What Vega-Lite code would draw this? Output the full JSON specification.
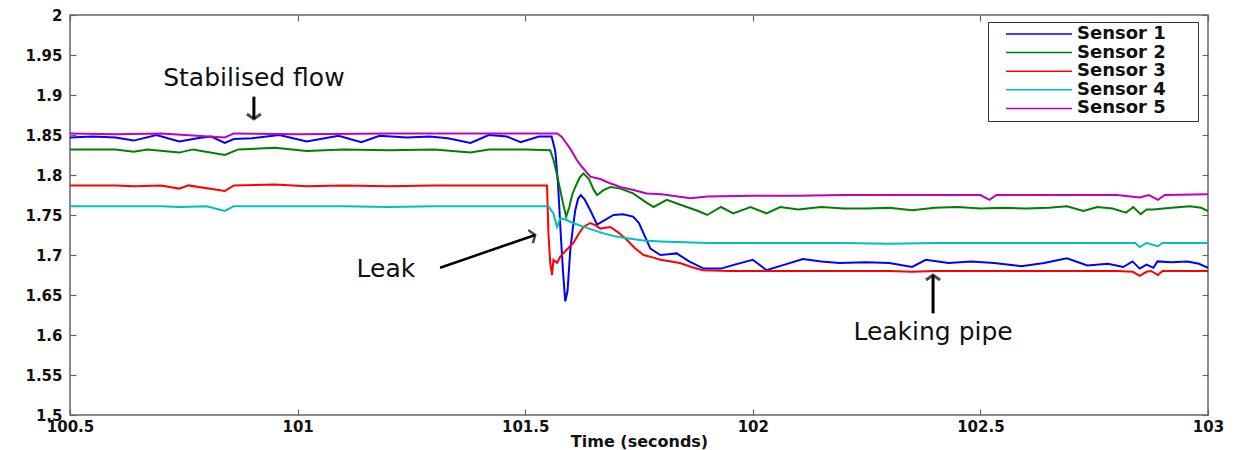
{
  "$schema": "https://vega.github.io/schema/vega-lite/v6.json",
  "width": 1138,
  "height": 400,
  "autosize": "none",
  "padding": {"left": 70, "top": 15, "right": 31, "bottom": 35},
  "background": "white",
  "config": {
    "view": {"stroke": "#666666", "strokeWidth": 1.5},
    "axis": {
      "labelFont": "DejaVu Sans", "labelFontWeight": "bold", "labelFontSize": 15, "labelColor": "#111111",
      "titleFont": "DejaVu Sans", "titleFontWeight": "bold", "titleFontSize": 16, "titleColor": "#111111",
      "domain": false, "grid": false, "tickColor": "#666666", "tickWidth": 1.2, "tickSize": -6,
      "labelFlush": false, "labelOverlap": false, "labelBound": false
    }
  },
  "datasets": {
    "sensors": [
      {"t":100.50,"v":1.847,"s":"Sensor 1"},{"t":100.55,"v":1.848,"s":"Sensor 1"},{"t":100.60,"v":1.847,"s":"Sensor 1"},{"t":100.64,"v":1.843,"s":"Sensor 1"},{"t":100.69,"v":1.850,"s":"Sensor 1"},{"t":100.74,"v":1.842,"s":"Sensor 1"},{"t":100.78,"v":1.846,"s":"Sensor 1"},{"t":100.81,"v":1.848,"s":"Sensor 1"},{"t":100.84,"v":1.840,"s":"Sensor 1"},{"t":100.86,"v":1.845,"s":"Sensor 1"},{"t":100.90,"v":1.846,"s":"Sensor 1"},{"t":100.96,"v":1.850,"s":"Sensor 1"},{"t":101.02,"v":1.842,"s":"Sensor 1"},{"t":101.09,"v":1.849,"s":"Sensor 1"},{"t":101.14,"v":1.841,"s":"Sensor 1"},{"t":101.18,"v":1.849,"s":"Sensor 1"},{"t":101.24,"v":1.847,"s":"Sensor 1"},{"t":101.29,"v":1.848,"s":"Sensor 1"},{"t":101.33,"v":1.846,"s":"Sensor 1"},{"t":101.38,"v":1.840,"s":"Sensor 1"},{"t":101.42,"v":1.850,"s":"Sensor 1"},{"t":101.46,"v":1.848,"s":"Sensor 1"},{"t":101.49,"v":1.841,"s":"Sensor 1"},{"t":101.53,"v":1.848,"s":"Sensor 1"},{"t":101.558,"v":1.848,"s":"Sensor 1"},{"t":101.566,"v":1.830,"s":"Sensor 1"},{"t":101.572,"v":1.790,"s":"Sensor 1"},{"t":101.578,"v":1.727,"s":"Sensor 1"},{"t":101.583,"v":1.680,"s":"Sensor 1"},{"t":101.588,"v":1.642,"s":"Sensor 1"},{"t":101.593,"v":1.655,"s":"Sensor 1"},{"t":101.599,"v":1.706,"s":"Sensor 1"},{"t":101.605,"v":1.735,"s":"Sensor 1"},{"t":101.610,"v":1.756,"s":"Sensor 1"},{"t":101.616,"v":1.770,"s":"Sensor 1"},{"t":101.622,"v":1.775,"s":"Sensor 1"},{"t":101.630,"v":1.770,"s":"Sensor 1"},{"t":101.643,"v":1.756,"s":"Sensor 1"},{"t":101.658,"v":1.738,"s":"Sensor 1"},{"t":101.670,"v":1.742,"s":"Sensor 1"},{"t":101.694,"v":1.750,"s":"Sensor 1"},{"t":101.715,"v":1.751,"s":"Sensor 1"},{"t":101.737,"v":1.748,"s":"Sensor 1"},{"t":101.750,"v":1.740,"s":"Sensor 1"},{"t":101.760,"v":1.727,"s":"Sensor 1"},{"t":101.775,"v":1.708,"s":"Sensor 1"},{"t":101.797,"v":1.700,"s":"Sensor 1"},{"t":101.815,"v":1.701,"s":"Sensor 1"},{"t":101.833,"v":1.702,"s":"Sensor 1"},{"t":101.860,"v":1.692,"s":"Sensor 1"},{"t":101.892,"v":1.683,"s":"Sensor 1"},{"t":101.930,"v":1.683,"s":"Sensor 1"},{"t":101.960,"v":1.688,"s":"Sensor 1"},{"t":102.000,"v":1.694,"s":"Sensor 1"},{"t":102.030,"v":1.681,"s":"Sensor 1"},{"t":102.070,"v":1.688,"s":"Sensor 1"},{"t":102.110,"v":1.695,"s":"Sensor 1"},{"t":102.150,"v":1.692,"s":"Sensor 1"},{"t":102.190,"v":1.690,"s":"Sensor 1"},{"t":102.250,"v":1.691,"s":"Sensor 1"},{"t":102.300,"v":1.690,"s":"Sensor 1"},{"t":102.350,"v":1.685,"s":"Sensor 1"},{"t":102.380,"v":1.694,"s":"Sensor 1"},{"t":102.430,"v":1.690,"s":"Sensor 1"},{"t":102.480,"v":1.692,"s":"Sensor 1"},{"t":102.530,"v":1.690,"s":"Sensor 1"},{"t":102.590,"v":1.686,"s":"Sensor 1"},{"t":102.640,"v":1.690,"s":"Sensor 1"},{"t":102.690,"v":1.696,"s":"Sensor 1"},{"t":102.735,"v":1.687,"s":"Sensor 1"},{"t":102.780,"v":1.689,"s":"Sensor 1"},{"t":102.814,"v":1.685,"s":"Sensor 1"},{"t":102.834,"v":1.692,"s":"Sensor 1"},{"t":102.850,"v":1.683,"s":"Sensor 1"},{"t":102.865,"v":1.688,"s":"Sensor 1"},{"t":102.880,"v":1.684,"s":"Sensor 1"},{"t":102.889,"v":1.692,"s":"Sensor 1"},{"t":102.920,"v":1.691,"s":"Sensor 1"},{"t":102.955,"v":1.692,"s":"Sensor 1"},{"t":102.980,"v":1.689,"s":"Sensor 1"},{"t":103.000,"v":1.684,"s":"Sensor 1"},

      {"t":100.50,"v":1.832,"s":"Sensor 2"},{"t":100.60,"v":1.832,"s":"Sensor 2"},{"t":100.64,"v":1.829,"s":"Sensor 2"},{"t":100.67,"v":1.832,"s":"Sensor 2"},{"t":100.74,"v":1.828,"s":"Sensor 2"},{"t":100.77,"v":1.832,"s":"Sensor 2"},{"t":100.84,"v":1.825,"s":"Sensor 2"},{"t":100.87,"v":1.832,"s":"Sensor 2"},{"t":100.95,"v":1.834,"s":"Sensor 2"},{"t":101.02,"v":1.830,"s":"Sensor 2"},{"t":101.10,"v":1.832,"s":"Sensor 2"},{"t":101.20,"v":1.831,"s":"Sensor 2"},{"t":101.30,"v":1.832,"s":"Sensor 2"},{"t":101.38,"v":1.828,"s":"Sensor 2"},{"t":101.42,"v":1.832,"s":"Sensor 2"},{"t":101.50,"v":1.832,"s":"Sensor 2"},{"t":101.555,"v":1.831,"s":"Sensor 2"},{"t":101.562,"v":1.819,"s":"Sensor 2"},{"t":101.570,"v":1.800,"s":"Sensor 2"},{"t":101.577,"v":1.781,"s":"Sensor 2"},{"t":101.584,"v":1.762,"s":"Sensor 2"},{"t":101.590,"v":1.748,"s":"Sensor 2"},{"t":101.597,"v":1.760,"s":"Sensor 2"},{"t":101.603,"v":1.775,"s":"Sensor 2"},{"t":101.610,"v":1.785,"s":"Sensor 2"},{"t":101.620,"v":1.797,"s":"Sensor 2"},{"t":101.628,"v":1.802,"s":"Sensor 2"},{"t":101.640,"v":1.795,"s":"Sensor 2"},{"t":101.650,"v":1.782,"s":"Sensor 2"},{"t":101.658,"v":1.775,"s":"Sensor 2"},{"t":101.672,"v":1.781,"s":"Sensor 2"},{"t":101.687,"v":1.785,"s":"Sensor 2"},{"t":101.709,"v":1.783,"s":"Sensor 2"},{"t":101.737,"v":1.777,"s":"Sensor 2"},{"t":101.760,"v":1.768,"s":"Sensor 2"},{"t":101.782,"v":1.760,"s":"Sensor 2"},{"t":101.811,"v":1.769,"s":"Sensor 2"},{"t":101.835,"v":1.764,"s":"Sensor 2"},{"t":101.855,"v":1.760,"s":"Sensor 2"},{"t":101.880,"v":1.755,"s":"Sensor 2"},{"t":101.900,"v":1.750,"s":"Sensor 2"},{"t":101.930,"v":1.760,"s":"Sensor 2"},{"t":101.957,"v":1.752,"s":"Sensor 2"},{"t":101.995,"v":1.760,"s":"Sensor 2"},{"t":102.030,"v":1.752,"s":"Sensor 2"},{"t":102.060,"v":1.760,"s":"Sensor 2"},{"t":102.100,"v":1.757,"s":"Sensor 2"},{"t":102.150,"v":1.760,"s":"Sensor 2"},{"t":102.200,"v":1.758,"s":"Sensor 2"},{"t":102.250,"v":1.758,"s":"Sensor 2"},{"t":102.300,"v":1.759,"s":"Sensor 2"},{"t":102.350,"v":1.756,"s":"Sensor 2"},{"t":102.400,"v":1.759,"s":"Sensor 2"},{"t":102.450,"v":1.760,"s":"Sensor 2"},{"t":102.500,"v":1.758,"s":"Sensor 2"},{"t":102.550,"v":1.759,"s":"Sensor 2"},{"t":102.600,"v":1.758,"s":"Sensor 2"},{"t":102.650,"v":1.759,"s":"Sensor 2"},{"t":102.690,"v":1.761,"s":"Sensor 2"},{"t":102.726,"v":1.755,"s":"Sensor 2"},{"t":102.757,"v":1.760,"s":"Sensor 2"},{"t":102.790,"v":1.758,"s":"Sensor 2"},{"t":102.820,"v":1.753,"s":"Sensor 2"},{"t":102.836,"v":1.760,"s":"Sensor 2"},{"t":102.852,"v":1.751,"s":"Sensor 2"},{"t":102.865,"v":1.757,"s":"Sensor 2"},{"t":102.880,"v":1.757,"s":"Sensor 2"},{"t":102.920,"v":1.759,"s":"Sensor 2"},{"t":102.960,"v":1.761,"s":"Sensor 2"},{"t":102.985,"v":1.759,"s":"Sensor 2"},{"t":103.000,"v":1.755,"s":"Sensor 2"},

      {"t":100.50,"v":1.787,"s":"Sensor 3"},{"t":100.60,"v":1.787,"s":"Sensor 3"},{"t":100.64,"v":1.786,"s":"Sensor 3"},{"t":100.70,"v":1.787,"s":"Sensor 3"},{"t":100.74,"v":1.783,"s":"Sensor 3"},{"t":100.76,"v":1.787,"s":"Sensor 3"},{"t":100.84,"v":1.780,"s":"Sensor 3"},{"t":100.86,"v":1.787,"s":"Sensor 3"},{"t":100.95,"v":1.788,"s":"Sensor 3"},{"t":101.02,"v":1.786,"s":"Sensor 3"},{"t":101.10,"v":1.787,"s":"Sensor 3"},{"t":101.20,"v":1.786,"s":"Sensor 3"},{"t":101.30,"v":1.787,"s":"Sensor 3"},{"t":101.40,"v":1.787,"s":"Sensor 3"},{"t":101.50,"v":1.787,"s":"Sensor 3"},{"t":101.548,"v":1.787,"s":"Sensor 3"},{"t":101.551,"v":1.727,"s":"Sensor 3"},{"t":101.555,"v":1.690,"s":"Sensor 3"},{"t":101.559,"v":1.675,"s":"Sensor 3"},{"t":101.562,"v":1.694,"s":"Sensor 3"},{"t":101.570,"v":1.690,"s":"Sensor 3"},{"t":101.577,"v":1.698,"s":"Sensor 3"},{"t":101.590,"v":1.706,"s":"Sensor 3"},{"t":101.606,"v":1.715,"s":"Sensor 3"},{"t":101.617,"v":1.726,"s":"Sensor 3"},{"t":101.628,"v":1.735,"s":"Sensor 3"},{"t":101.643,"v":1.740,"s":"Sensor 3"},{"t":101.655,"v":1.737,"s":"Sensor 3"},{"t":101.665,"v":1.733,"s":"Sensor 3"},{"t":101.687,"v":1.735,"s":"Sensor 3"},{"t":101.705,"v":1.728,"s":"Sensor 3"},{"t":101.723,"v":1.719,"s":"Sensor 3"},{"t":101.740,"v":1.709,"s":"Sensor 3"},{"t":101.760,"v":1.700,"s":"Sensor 3"},{"t":101.780,"v":1.697,"s":"Sensor 3"},{"t":101.797,"v":1.694,"s":"Sensor 3"},{"t":101.840,"v":1.690,"s":"Sensor 3"},{"t":101.865,"v":1.685,"s":"Sensor 3"},{"t":101.890,"v":1.681,"s":"Sensor 3"},{"t":101.950,"v":1.680,"s":"Sensor 3"},{"t":102.000,"v":1.680,"s":"Sensor 3"},{"t":102.100,"v":1.680,"s":"Sensor 3"},{"t":102.200,"v":1.680,"s":"Sensor 3"},{"t":102.300,"v":1.680,"s":"Sensor 3"},{"t":102.350,"v":1.679,"s":"Sensor 3"},{"t":102.400,"v":1.680,"s":"Sensor 3"},{"t":102.500,"v":1.680,"s":"Sensor 3"},{"t":102.600,"v":1.680,"s":"Sensor 3"},{"t":102.700,"v":1.680,"s":"Sensor 3"},{"t":102.800,"v":1.680,"s":"Sensor 3"},{"t":102.835,"v":1.679,"s":"Sensor 3"},{"t":102.850,"v":1.674,"s":"Sensor 3"},{"t":102.865,"v":1.679,"s":"Sensor 3"},{"t":102.875,"v":1.680,"s":"Sensor 3"},{"t":102.890,"v":1.675,"s":"Sensor 3"},{"t":102.900,"v":1.680,"s":"Sensor 3"},{"t":102.950,"v":1.680,"s":"Sensor 3"},{"t":103.000,"v":1.680,"s":"Sensor 3"},

      {"t":100.50,"v":1.761,"s":"Sensor 4"},{"t":100.60,"v":1.761,"s":"Sensor 4"},{"t":100.70,"v":1.761,"s":"Sensor 4"},{"t":100.74,"v":1.760,"s":"Sensor 4"},{"t":100.80,"v":1.761,"s":"Sensor 4"},{"t":100.84,"v":1.755,"s":"Sensor 4"},{"t":100.86,"v":1.761,"s":"Sensor 4"},{"t":100.95,"v":1.761,"s":"Sensor 4"},{"t":101.10,"v":1.761,"s":"Sensor 4"},{"t":101.20,"v":1.760,"s":"Sensor 4"},{"t":101.30,"v":1.761,"s":"Sensor 4"},{"t":101.40,"v":1.761,"s":"Sensor 4"},{"t":101.551,"v":1.761,"s":"Sensor 4"},{"t":101.562,"v":1.752,"s":"Sensor 4"},{"t":101.570,"v":1.735,"s":"Sensor 4"},{"t":101.577,"v":1.746,"s":"Sensor 4"},{"t":101.590,"v":1.744,"s":"Sensor 4"},{"t":101.605,"v":1.740,"s":"Sensor 4"},{"t":101.620,"v":1.737,"s":"Sensor 4"},{"t":101.645,"v":1.732,"s":"Sensor 4"},{"t":101.672,"v":1.727,"s":"Sensor 4"},{"t":101.700,"v":1.723,"s":"Sensor 4"},{"t":101.723,"v":1.721,"s":"Sensor 4"},{"t":101.760,"v":1.718,"s":"Sensor 4"},{"t":101.797,"v":1.717,"s":"Sensor 4"},{"t":101.850,"v":1.716,"s":"Sensor 4"},{"t":101.900,"v":1.715,"s":"Sensor 4"},{"t":102.000,"v":1.715,"s":"Sensor 4"},{"t":102.100,"v":1.715,"s":"Sensor 4"},{"t":102.200,"v":1.715,"s":"Sensor 4"},{"t":102.300,"v":1.714,"s":"Sensor 4"},{"t":102.400,"v":1.715,"s":"Sensor 4"},{"t":102.500,"v":1.715,"s":"Sensor 4"},{"t":102.600,"v":1.715,"s":"Sensor 4"},{"t":102.700,"v":1.715,"s":"Sensor 4"},{"t":102.800,"v":1.715,"s":"Sensor 4"},{"t":102.840,"v":1.715,"s":"Sensor 4"},{"t":102.850,"v":1.710,"s":"Sensor 4"},{"t":102.865,"v":1.715,"s":"Sensor 4"},{"t":102.890,"v":1.711,"s":"Sensor 4"},{"t":102.900,"v":1.715,"s":"Sensor 4"},{"t":103.000,"v":1.715,"s":"Sensor 4"},

      {"t":100.50,"v":1.852,"s":"Sensor 5"},{"t":100.60,"v":1.851,"s":"Sensor 5"},{"t":100.70,"v":1.852,"s":"Sensor 5"},{"t":100.84,"v":1.847,"s":"Sensor 5"},{"t":100.86,"v":1.852,"s":"Sensor 5"},{"t":101.00,"v":1.851,"s":"Sensor 5"},{"t":101.20,"v":1.852,"s":"Sensor 5"},{"t":101.40,"v":1.852,"s":"Sensor 5"},{"t":101.570,"v":1.852,"s":"Sensor 5"},{"t":101.580,"v":1.848,"s":"Sensor 5"},{"t":101.590,"v":1.840,"s":"Sensor 5"},{"t":101.600,"v":1.832,"s":"Sensor 5"},{"t":101.613,"v":1.819,"s":"Sensor 5"},{"t":101.625,"v":1.810,"s":"Sensor 5"},{"t":101.643,"v":1.798,"s":"Sensor 5"},{"t":101.665,"v":1.795,"s":"Sensor 5"},{"t":101.685,"v":1.790,"s":"Sensor 5"},{"t":101.709,"v":1.785,"s":"Sensor 5"},{"t":101.740,"v":1.781,"s":"Sensor 5"},{"t":101.767,"v":1.777,"s":"Sensor 5"},{"t":101.800,"v":1.776,"s":"Sensor 5"},{"t":101.863,"v":1.771,"s":"Sensor 5"},{"t":101.900,"v":1.773,"s":"Sensor 5"},{"t":102.000,"v":1.774,"s":"Sensor 5"},{"t":102.100,"v":1.774,"s":"Sensor 5"},{"t":102.200,"v":1.775,"s":"Sensor 5"},{"t":102.300,"v":1.775,"s":"Sensor 5"},{"t":102.400,"v":1.775,"s":"Sensor 5"},{"t":102.500,"v":1.775,"s":"Sensor 5"},{"t":102.520,"v":1.769,"s":"Sensor 5"},{"t":102.535,"v":1.775,"s":"Sensor 5"},{"t":102.600,"v":1.775,"s":"Sensor 5"},{"t":102.700,"v":1.775,"s":"Sensor 5"},{"t":102.800,"v":1.775,"s":"Sensor 5"},{"t":102.850,"v":1.772,"s":"Sensor 5"},{"t":102.870,"v":1.775,"s":"Sensor 5"},{"t":102.890,"v":1.769,"s":"Sensor 5"},{"t":102.905,"v":1.775,"s":"Sensor 5"},{"t":103.000,"v":1.776,"s":"Sensor 5"}
    ],
    "notes": [
      {"label": "Stabilised flow", "x": 100.904, "y": 1.921},
      {"label": "Leak", "x": 101.194, "y": 1.6825},
      {"label": "Leaking pipe", "x": 102.396, "y": 1.604}
    ],
    "arrows": [
      {"x": 100.904, "y": 1.898, "x2": 100.904, "y2": 1.870, "angle": 0, "w": 3},
      {"x": 101.313, "y": 1.684, "x2": 101.522, "y2": 1.725, "angle": 251, "w": 2.5},
      {"x": 102.396, "y": 1.627, "x2": 102.396, "y2": 1.675, "angle": 180, "w": 3}
    ]
  },
  "layer": [
    {
      "data": {"name": "sensors"},
      "mark": {"type": "line", "strokeWidth": 2, "interpolate": "linear", "clip": true},
      "encoding": {
        "x": {"field": "t", "type": "quantitative",
          "scale": {"domain": [100.5, 103], "nice": false, "zero": false},
          "axis": {"orient": "bottom", "title": "Time (seconds)", "values": [100.5, 101, 101.5, 102, 102.5, 103], "format": ".1~f", "labelPadding": 10, "titlePadding": -1}},
        "y": {"field": "v", "type": "quantitative",
          "scale": {"domain": [1.5, 2], "nice": false, "zero": false},
          "axis": {"orient": "left", "title": null, "values": [1.5, 1.55, 1.6, 1.65, 1.7, 1.75, 1.8, 1.85, 1.9, 1.95, 2], "format": ".2~f", "labelPadding": 14}},
        "color": {"field": "s", "type": "nominal",
          "scale": {"domain": ["Sensor 1", "Sensor 2", "Sensor 3", "Sensor 4", "Sensor 5"], "range": ["#0000FF", "#008000", "#FF0000", "#00BFBF", "#BF00BF"]},
          "legend": {"orient": "none", "legendX": 918, "legendY": 7, "title": null,
            "symbolType": "M1.2,0H14.4M38.4,0", "symbolSize": 100, "symbolStrokeWidth": 1.5,
            "labelFont": "DejaVu Sans", "labelFontWeight": "bold", "labelFontSize": 18, "labelColor": "#111111", "labelOffset": 68,
            "strokeColor": "#333333", "fillColor": "white", "padding": 3, "rowPadding": 0.6}}
      }
    },
    {
      "data": {"name": "arrows"},
      "mark": {"type": "rule", "color": "black"},
      "encoding": {
        "x": {"field": "x", "type": "quantitative", "axis": {"orient": "top", "title": null, "labels": false, "values": [100.5, 101, 101.5, 102, 102.5, 103]}},
        "y": {"field": "y", "type": "quantitative", "axis": {"orient": "right", "title": null, "labels": false, "values": [1.5, 1.55, 1.6, 1.65, 1.7, 1.75, 1.8, 1.85, 1.9, 1.95, 2]}},
        "x2": {"field": "x2"},
        "y2": {"field": "y2"},
        "strokeWidth": {"field": "w", "type": "quantitative", "scale": null}
      }
    },
    {
      "data": {"name": "arrows"},
      "mark": {"type": "point", "shape": "M-1,-0.7L0,0L1,-0.7", "filled": false, "color": "black", "size": 196, "strokeJoin": "miter"},
      "encoding": {
        "x": {"field": "x2", "type": "quantitative", "axis": null},
        "y": {"field": "y2", "type": "quantitative", "axis": null},
        "angle": {"field": "angle", "type": "quantitative", "scale": null},
        "strokeWidth": {"field": "w", "type": "quantitative", "scale": null}
      }
    },
    {
      "data": {"name": "notes"},
      "mark": {"type": "text", "font": "DejaVu Sans", "fontSize": 25, "color": "#111111", "baseline": "middle", "align": "center"},
      "encoding": {
        "x": {"field": "x", "type": "quantitative", "axis": null},
        "y": {"field": "y", "type": "quantitative", "axis": null},
        "text": {"field": "label"}
      }
    }
  ],
  "resolve": {"axis": {"x": "independent", "y": "independent"}}
}
